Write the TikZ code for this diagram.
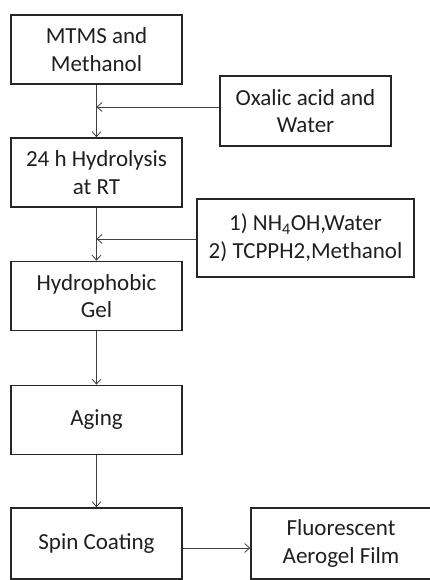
\documentclass[tikz,border=0pt]{standalone}
\usepackage{fontspec}
\setmainfont{Carlito}
\usetikzlibrary{arrows.meta}
\begin{document}
\begin{tikzpicture}[x=1pt,y=1pt,
  box/.style={draw=black!85, line width=1.7pt, align=center, inner sep=0pt,
    minimum width=171pt, minimum height=69pt, text=black!88,
    font=\fontsize{23}{27.7}\selectfont},
  conn/.style={draw=black!75, line width=0.8pt, -{Straight Barb[length=5pt,width=9pt]}}]
\useasboundingbox (0,0) rectangle (429,580);
\node[box] (mtms) at (96.5,530.5) {MTMS and\\Methanol};
\node[box, minimum height=70pt] (oxalic) at (305.5,469) {Oxalic acid and\\Water};
\node[box] (hydro) at (96.5,407.5) {24 h Hydrolysis\\at RT};
\node[box, minimum width=217pt, minimum height=78pt] (reag) at (305.5,342) {1) NH\textsubscript{4}OH,Water\\2) TCPPH2,Methanol};
\node[box] (gel) at (96.5,284) {Hydrophobic\\Gel};
\node[box] (aging) at (96.5,160) {Aging};
\node[box, minimum height=71pt] (spin) at (96.5,36.5) {Spin Coating};
\node[box, minimum width=180pt, minimum height=71pt] (film) at (341,36.5) {Fluorescent\\Aerogel Film};
\coordinate (j1) at (96.5,473);
\coordinate (j2) at (96.5,341);
\coordinate (j3) at (182,32);
\draw[conn] (mtms) -- (hydro);
\draw[conn] (j1 -| oxalic.west) -- (j1);
\draw[conn] (hydro) -- (gel);
\draw[conn] (j2 -| reag.west) -- (j2);
\draw[conn] (gel) -- (aging);
\draw[conn] (aging) -- (spin);
\draw[conn] (j3 -| spin.east) -- (j3 -| film.west);
\end{tikzpicture}
\end{document}
